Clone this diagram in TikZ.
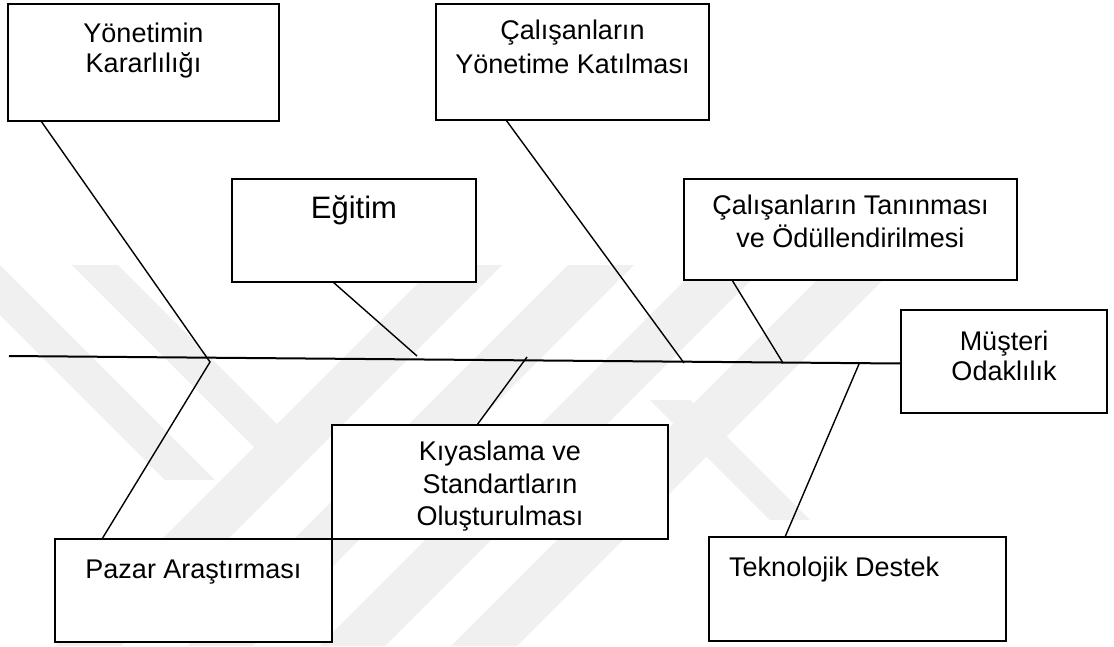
\documentclass[tikz,border=0pt]{standalone}
\usepackage{fontspec}
\setmainfont{Liberation Sans}
\usetikzlibrary{calc}
\definecolor{wmark}{RGB}{240,240,240}
\newcommand\bodyfs{\fontsize{27}{32}\selectfont}
\newcommand\bigfs{\fontsize{31}{37}\selectfont}
\tikzset{
  cause/.style={draw=black, fill=white, line width=1.9pt, inner sep=0pt, outer sep=0pt, rectangle},
  lbl/.style={anchor=base, inner sep=0pt, font=\bodyfs},
  bone/.style={line width=1.4pt},
  spine/.style={line width=2pt},
  band/.style={fill=wmark, draw=none},
}
\begin{document}
\begin{tikzpicture}[x=1pt, y=-1pt]
  \useasboundingbox (0,0) rectangle (1114,646);
  \fill[white] (0,0) rectangle (1114,646);

  % faint background emblem made of diagonal bands
  \begin{scope}
    \clip (0,265) rectangle (1114,646);
    \foreach \x in {55,187,319,451}
      \fill[band] (\x,646) -- (\x+66,646) -- (\x+447,265) -- (\x+381,265) -- cycle;
    \fill[band] (-50,265) -- (0,265) -- (215,480) -- (165,480) -- cycle;
    \fill[band] (72,265) -- (118,265) -- (305,452) -- (259,452) -- cycle;
    \fill[band] (650,400) -- (690,400) -- (810,520) -- (770,520) -- cycle;
  \end{scope}

  % cause boxes
  \node[cause, minimum width=271pt, minimum height=117pt] (k1) at (143.5,62.5) {};
  \node[cause, minimum width=273pt, minimum height=116pt] (k2) at (572.5,62) {};
  \node[cause, minimum width=244pt, minimum height=103pt] (k3) at (354,230.5) {};
  \node[cause, minimum width=333pt, minimum height=101pt] (k4) at (850.5,229.5) {};
  \node[cause, minimum width=206pt, minimum height=103pt] (k5) at (1004,361.5) {};
  \node[cause, minimum width=336pt, minimum height=114pt] (k6) at (500,482) {};
  \node[cause, minimum width=277pt, minimum height=103pt] (k7) at (193.5,590.5) {};
  \node[cause, minimum width=297pt, minimum height=104pt] (k8) at (857.5,589) {};

  % points on the spine
  \coordinate (tail) at (9,356);
  \coordinate (j1) at (210,362);
  \coordinate (e3) at (417,356);
  \coordinate (e6) at (527,357);
  \coordinate (j2) at (684,363);
  \coordinate (j4) at (783,363);
  \coordinate (j8) at (859,364);

  % spine and bones
  \draw[spine] (tail) -- ($(k5.west)+(0,2)$);
  \draw[bone] ($(k1.south west)+(33,0)$) -- (j1) -- ($(k7.north west)+(47,0)$);
  \draw[bone] ($(k3.south west)+(101,0)$) -- (e3);
  \draw[bone] ($(k2.south west)+(70,0)$) -- (j2);
  \draw[bone] ($(k4.south west)+(48,0)$) -- (j4);
  \draw[bone] ($(k6.north west)+(145,0)$) -- (e6);
  \draw[bone] ($(k8.north west)+(76,0)$) -- (j8);

  % box outlines drawn again over the bone ends
  \foreach \b in {k1,k2,k3,k4,k5,k6,k7,k8}
    \draw[line width=1.9pt] (\b.north west) rectangle (\b.south east);

  % labels
  \node[lbl] (t1a) at (143.5,42) {Yönetimin};
  \node[lbl] (t1b) at (143.5,72) {Kararlılığı};
  \node[lbl] (t2a) at (572.5,39) {Çalışanların};
  \node[lbl] (t2b) at (572.5,73) {Yönetime Katılması};
  \node[lbl, font=\bigfs] (t3) at (354,218) {Eğitim};
  \node[lbl] (t4a) at (850.5,214) {Çalışanların Tanınması};
  \node[lbl] (t4b) at (850.5,247) {ve Ödüllendirilmesi};
  \node[lbl] (t5a) at (1004,350) {Müşteri};
  \node[lbl] (t5b) at (1004,380) {Odaklılık};
  \node[lbl] (t6a) at (500,460) {Kıyaslama ve};
  \node[lbl] (t6b) at (500,493) {Standartların};
  \node[lbl] (t6c) at (500,525) {Oluşturulması};
  \node[lbl] (t7) at (193.5,578) {Pazar Araştırması};
  \node[lbl, anchor=base west] (t8) at (729,576) {Teknolojik Destek};
\end{tikzpicture}
\end{document}
